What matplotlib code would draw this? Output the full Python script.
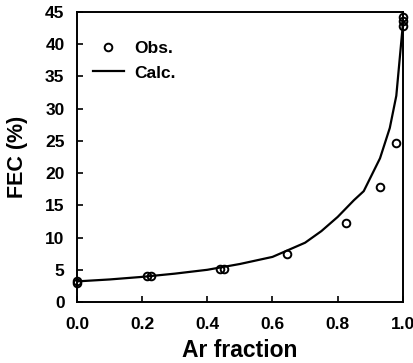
import matplotlib
matplotlib.use("Agg")
import matplotlib.pyplot as plt

obs_x = [0.0, 0.0, 0.215, 0.228, 0.44, 0.452, 0.645, 0.825, 0.93, 0.98, 1.0, 1.0, 1.0]
obs_y = [3.0, 3.3, 4.0, 4.0, 5.2, 5.2, 7.5, 12.2, 17.8, 24.7, 42.8, 43.6, 44.2]

calc_x = [0.0, 0.1, 0.2, 0.3, 0.4, 0.5, 0.6, 0.7, 0.75, 0.8, 0.85, 0.88, 0.93, 0.96, 0.98, 1.0]
calc_y = [3.2, 3.5, 3.9, 4.4, 5.0, 5.9, 7.0, 9.2, 11.0, 13.2, 15.8, 17.2, 22.3, 27.0, 32.0, 43.0]

xticks = [0.0, 0.2, 0.4, 0.6, 0.8, 1.0]
yticks = [0, 5, 10, 15, 20, 25, 30, 35, 40, 45]

plt.rcParams['font.family'] = ['Liberation Sans', 'DejaVu Sans']
plt.rcParams['font.weight'] = 'bold'

fig = plt.figure(figsize=(4.14, 3.63), dpi=100)
ax = fig.add_axes([0.186, 0.168, 0.787, 0.799])

ax.plot(obs_x, obs_y, 'o', mfc='none', mec='black', ms=5.5, mew=1.4, label='Obs.', clip_on=False)
ax.plot(calc_x, calc_y, '-', color='black', lw=1.6, label='Calc.')

ax.set_xlim(0, 1.0)
ax.set_ylim(0, 45)
ax.set_xticks(xticks)
ax.set_xticklabels([f"{v:.1f}" for v in xticks])
ax.set_yticks(yticks)
ax.tick_params(direction='in', length=4, width=1.2, labelsize=12.5)
ax.tick_params(axis='x', pad=11)
ax.tick_params(axis='y', pad=9)
for s in ax.spines.values():
    s.set_linewidth(1.4)

ax.set_xlabel('Ar fraction', fontsize=16.5, fontweight='bold', labelpad=5)
ax.set_ylabel('FEC (%)', fontsize=15.5, fontweight='bold', labelpad=12)

leg = ax.legend(loc='upper left', frameon=False, fontsize=12.5, handlelength=1.8,
                bbox_to_anchor=(0.0, 0.955), handletextpad=0.6, labelspacing=0.55)

fig.savefig('out.png', dpi=100)
